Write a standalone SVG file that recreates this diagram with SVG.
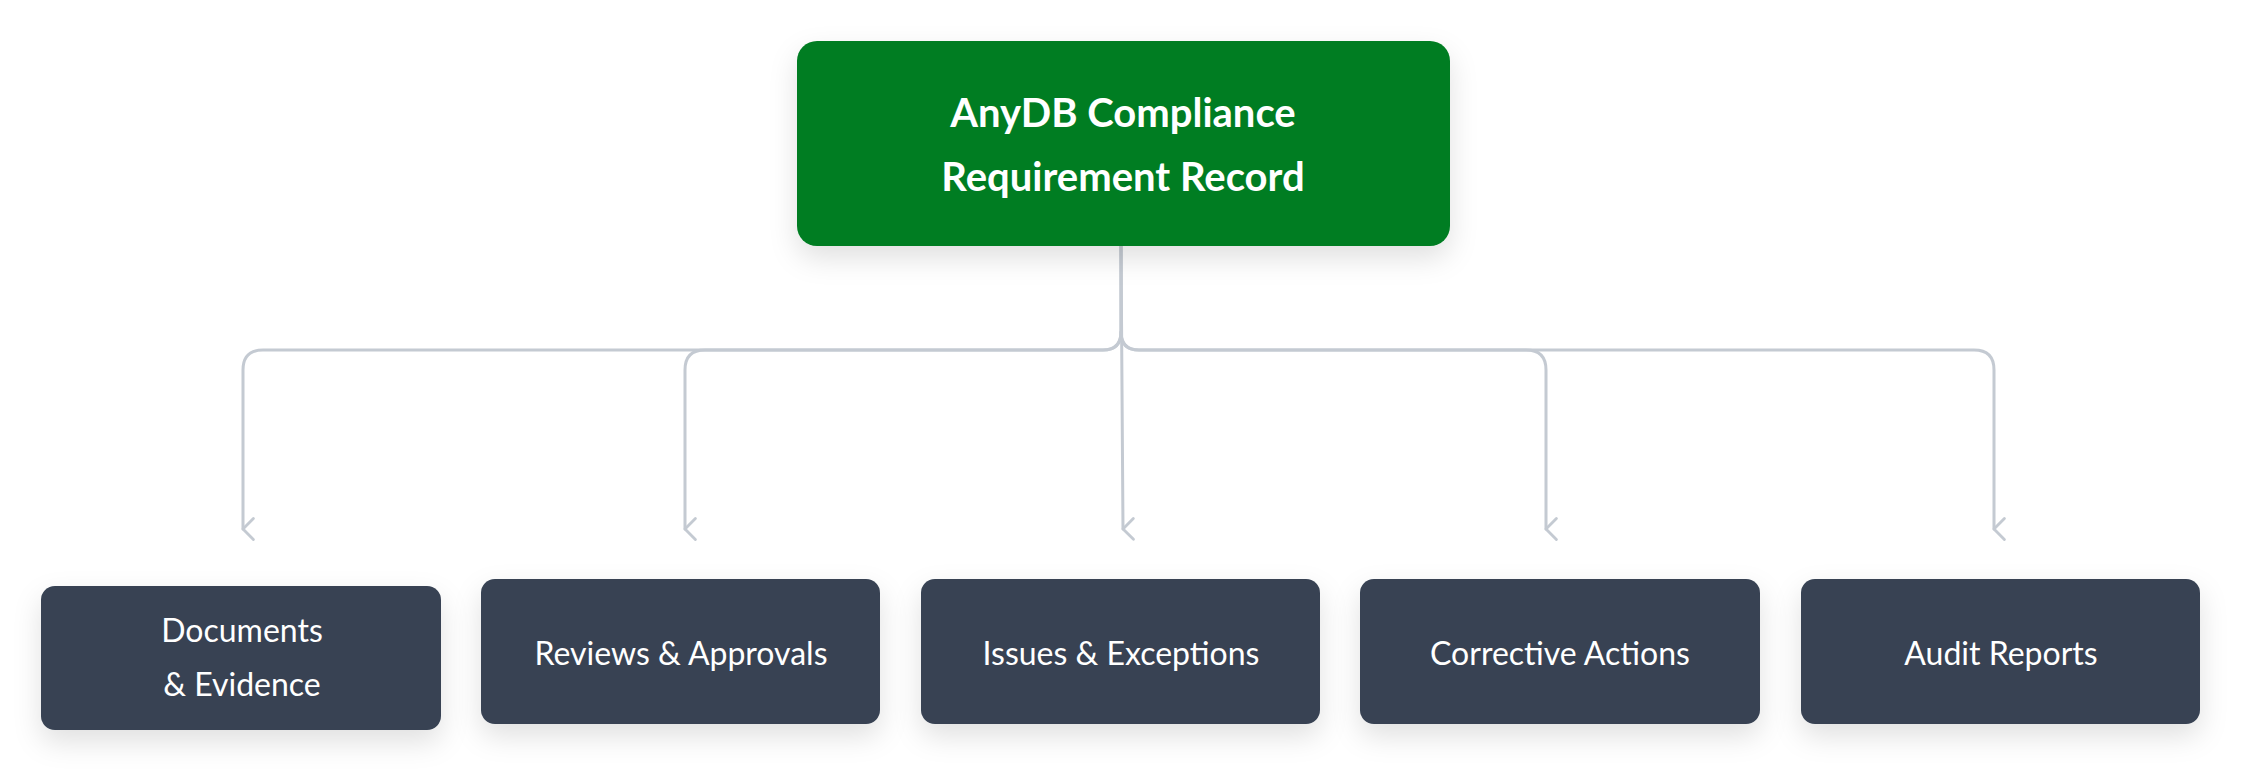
<svg xmlns="http://www.w3.org/2000/svg" width="2243" height="778" viewBox="0 0 2243 778">
<style>
.lbl{font-family:Lato,"Noto Sans",sans-serif;font-size:32px;fill:#fff;text-anchor:middle}
.root{font-family:Lato,"Noto Sans",sans-serif;font-size:40px;font-weight:bold;fill:#fff;text-anchor:middle}
.box{fill:#374253;filter:url(#sh)}
.c{fill:none;stroke:#c4cad2;stroke-width:3;stroke-linecap:round;stroke-linejoin:round}
</style>
<defs>
<filter id="sh" x="-20%" y="-30%" width="140%" height="170%">
<feDropShadow dx="0" dy="12" stdDeviation="14" flood-color="#000" flood-opacity="0.12"/>
</filter>
<marker id="ar" viewBox="0 0 20 20" refX="10" refY="18" markerWidth="26" markerHeight="26" markerUnits="userSpaceOnUse" orient="auto-start-reverse">
<path d="M2 10 L10 18 L18 10" fill="none" stroke="#c4cad2" stroke-width="2.2" stroke-linecap="round" stroke-linejoin="round"/>
</marker>
</defs>
<g id="connectors">
<path class="c" d="M1121 246 V332 Q1121 350 1103 350 H263 Q243 350 243 370 V529" marker-end="url(#ar)"/>
<path class="c" d="M1121 332 Q1121 350 1103 350 H705 Q685 350 685 370 V529" marker-end="url(#ar)"/>
<path class="c" d="M1121 246 L1123 529" marker-end="url(#ar)"/>
<path class="c" d="M1121 246 V332 Q1121 350 1139 350 H1526 Q1546 350 1546 370 V529" marker-end="url(#ar)"/>
<path class="c" d="M1121 332 Q1121 350 1139 350 H1974 Q1994 350 1994 370 V529" marker-end="url(#ar)"/>
</g>
<g id="root">
<rect x="797" y="41" width="653" height="205" rx="20" fill="#007d24" filter="url(#sh)"/>
<text class="root" x="1123" y="127">AnyDB Compliance</text>
<text class="root" x="1123" y="191">Requirement Record</text>
</g>
<g id="n1"><rect class="box" x="41" y="586" width="400" height="144" rx="14"/>
<text class="lbl" x="242" y="642">Documents</text><text class="lbl" x="242" y="696">&amp; Evidence</text></g>
<g id="n2"><rect class="box" x="481" y="579" width="399" height="145" rx="14"/>
<text class="lbl" x="681" y="665">Reviews &amp; Approvals</text></g>
<g id="n3"><rect class="box" x="921" y="579" width="399" height="145" rx="14"/>
<text class="lbl" x="1121" y="665">Issues &amp; Exceptions</text></g>
<g id="n4"><rect class="box" x="1360" y="579" width="400" height="145" rx="14"/>
<text class="lbl" x="1560" y="665">Corrective Actions</text></g>
<g id="n5"><rect class="box" x="1801" y="579" width="399" height="145" rx="14"/>
<text class="lbl" x="2001" y="665">Audit Reports</text></g>
</svg>
